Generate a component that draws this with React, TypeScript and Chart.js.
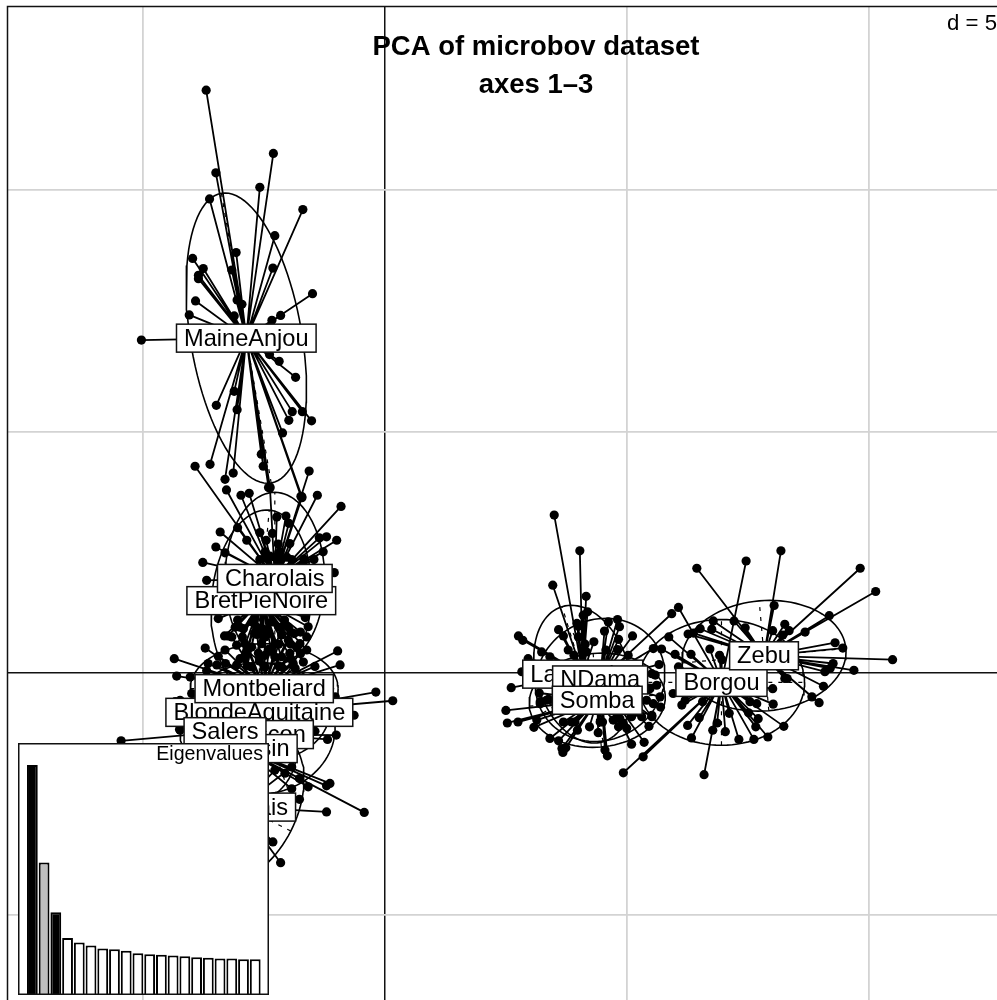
import React, { useEffect, useRef } from "react";
import { Chart, registerables } from "chart.js";
Chart.register(...registerables);

const FONT = '"Liberation Sans", Arial, sans-serif';

const populations = ["Borgou","Zebu","Lagunaire","NDama","Somba","Bazadais","BlondeAquitaine","BretPieNoire","Charolais","Gascon","Limousin","MaineAnjou","Montbeliard","Salers"];
const centreX = [6.96,7.84,4.09,4.45,4.39,-3.01,-2.6,-2.56,-2.28,-2.48,-2.95,-2.87,-2.5,-3.31];
const centreY = [-0.19,0.36,-0.02,-0.14,-0.56,-2.77,-0.81,1.5,1.96,-1.27,-1.56,6.93,-0.32,-1.21];
const ellipseA = [1.72,1.7,1.46,1.37,1.41,1.71,1.45,1.88,1.78,1.41,1.14,3.04,1.53,0.93];
const ellipseB = [1.3,1.14,0.96,1.24,0.97,1.09,1.03,1.03,1.03,1.2,1.03,1.15,0.93,0.93];
const ellipseAngle = [0,5,107,30,5,63,0,85,90,20,90,99.75,0,0];
const ellipseShiftX = [0,0,0,0,0,0.09,0,0,0,0.06,0.1,0,0,0];

const borgouX = [6.07,5.87,7.47,6.72,6.33,6,6.92,6.97,5.72,6.07,6.14,6.21,5.96,6.57,6.26,6.5,6.78,6.87,7.04,7.12,6.34,6.6,7.32,7.52,7.63,7.67,7.72,7.92,8.03,8.25,8.02,4.93,5.34,7.55,7.69];
const borgouY = [1.36,0.75,2.32,0.5,0.39,0.39,0.37,0.28,0.5,0.13,-0.66,-0.56,-0.42,-0.59,-1.08,-0.92,-1.18,-1.03,-1.21,-0.83,-1.34,-2.1,-1.37,-0.82,-1.37,-1.11,-0.94,-1.32,-0.64,-1.1,-0.32,-2.06,-1.73,-0.59,-0.63];
const zebuX = [6.45,8.19,9.83,10.15,8.05,9.19,8.69,8.27,8.36,8.02,8.23,6.79,7.22,7.45,6.76,6.52,6.38,6.27,9.31,9.47,10.5,9.27,9.21,9.1,9.7,9.07,8.83,8.98,8.27,8.32];
const zebuY = [2.17,2.53,2.17,1.69,1.4,1.19,0.85,1.01,0.88,0.88,0.79,1.08,1.08,0.94,0.91,0.92,0.83,0.81,0.63,0.52,0.28,0.2,0.1,0.03,0.06,-0.27,-0.49,-0.61,-0.11,-0.11];
const lagunaireX = [3.5,4.03,3.47,4.16,4.1,4.19,3.59,3.69,2.76,2.85,3.24,4,4,4.32,4.14,3.91,2.96,3.41,3.79,4.17,2.83,2.61,3.97];
const lagunaireY = [3.27,2.53,1.82,1.59,1.2,1.27,0.9,0.77,0.77,0.68,0.44,0.97,0.75,0.65,0.6,0.37,0.3,0.34,0.48,0.44,0.03,-0.3,1.03];
const ndamaX = [4.62,4.81,4.85,4.54,5.12,4.83,4.81,4.57,5.03,5.93,5.55,5.67,5.52,5.59,5.62,5.69,5.48,5.41,5.7,5.52,5.46,5.36,5.1,5,4.83,4.55,4.6];
const ndamaY = [1.06,1.11,0.96,0.87,0.77,0.7,0.49,0.48,0.37,1.23,0.51,0.18,-0.01,-0.04,-0.25,-0.49,-0.32,-0.56,-0.7,-0.9,-1.1,-1.43,-1.47,-1.14,-1.11,-1.59,-1.71];
const sombaX = [2.5,2.53,2.75,3.08,3.14,3.21,3.19,3.38,3.41,3.59,3.66,3.74,3.68,3.98,3.69,3.93,4.23,4.41,4.5,5.1,4.86,4.72,5.14,5.31,4.93,4.45,3.86,3.34,3.21,5.55,5.52];
const sombaY = [-0.77,-1.03,-1.01,-1.12,-0.97,-0.59,-0.41,-0.54,-1.35,-1.4,-1.56,-1.54,-1.64,-1.18,-1.01,-1.01,-1.11,-1.23,-1.01,-0.9,-0.94,-0.97,-0.83,-0.9,-1.04,-1.01,-1.01,-0.56,-0.63,-0.63,-0.87];
const maineAnjouX = [-3.7,-2.31,-2.59,-3.5,-3.63,-1.7,-2.28,-3.08,-3.98,-3.76,-3.86,-3.86,-3.17,-2.32,-1.5,-3.92,-3.06,-2.96,-4.05,-3.12,-2.16,-2.34,-5.04,-2.39,-2.19,-1.85,-3.49,-3.12,-3.06,-1.92,-1.71,-1.99,-1.52,-2.12,-2.56,-3.62,-2.52,-3.14,-3.31,-2.38,-2.41,-1.72,-1.74];
const maineAnjouY = [12.06,10.75,10.05,10.35,9.81,9.59,9.05,8.7,8.58,8.37,8.23,8.16,8.34,8.38,7.85,7.7,7.72,7.63,7.41,7.39,7.4,7.3,6.89,6.59,6.45,6.12,5.54,5.83,5.45,5.41,5.41,5.23,5.22,4.97,4.53,4.32,4.28,4.14,4.01,3.85,3.84,3.65,3.66];
const charolaisX = [-3.93,-3.28,-2.98,-2.81,-2.38,-1.57,-1.72,-1.4,-0.91,-2.24,-2.05,-1.99,-3.05,-3.41,-3.5,-3.31,-2.86,-2.59,-2.33,-2.46,-2.21,-1.97,-1.36,-1.21,-1,-1.28,-1.68,-1.47,-3.77,-3.69,-1.05,-2.48,-2.38,-2.28,-2.17,-2.03,-2.59,-1.93,-2.48,-2.17];
const charolaisY = [4.28,3.79,3.68,3.72,3.83,4.18,3.63,3.68,3.45,3.23,3.25,3.1,3.01,2.92,2.61,2.49,2.75,2.91,2.89,2.75,2.67,2.68,2.8,2.82,2.75,2.51,2.36,2.35,2.29,1.92,2.08,2.38,2.42,2.4,2.37,2.4,2.35,2.35,2.51,2.51];
const bretPieNoireX = [-3.45,-3.05,-2.75,-2.34,-2.08,-1.65,-1.59,-3.32,-3.25,-2.93,-2.7,-2.41,-2.14,-1.88,-1.62,-3.07,-2.76,-2.55,-2.28,-1.83,-1.62,-2.9,-2.48,-2.14,-1.69,-3.1,-2.95,-2.85,-2.65,-2.5,-2.2,-2,-1.95,-1.75,-3,-2.6,-2.35,-1.95,-2.85,-2.2];
const bretPieNoireY = [1.13,1.1,1.06,1.06,1.1,1.15,0.96,0.77,0.77,0.92,0.82,0.82,0.79,0.82,0.75,0.58,0.54,0.61,0.61,0.54,0.48,0.34,0.37,0.34,0.23,0.95,0.75,0.45,0.95,0.9,0.95,0.95,0.6,0.85,0.3,0.3,0.45,0.3,0.15,0.15];
const montbeliardX = [-3.72,-0.98,-4.36,-3.66,-0.93,-3.69,-3.48,-3.07,-2.76,-2.48,-2.14,-1.86,-1.45,-4.31,-4.03,-4,-4.24,-3.31,-2.62,-2.28,-1.97,-2.9,-2.48,-2,-1.76,-3.17,-3,-2.85,-2.65,-2.4,-2.15,-1.95,-1.75,-3.3,-2.6,-2.2,-1.9,-3.45,-2.9];
const montbeliardY = [0.52,0.46,0.3,0.2,0.17,0.05,0.17,0.17,0.13,0.13,0.13,0.1,0.14,-0.06,-0.08,-0.42,-0.56,0.48,0.41,0.34,0.41,0.61,0.75,0.68,0.61,0.75,0.95,0.5,0.8,0.5,0.95,0.85,0.4,0.2,0.25,0.6,0.2,0.35,0.3];
const blondeAquitaineX = [-0.19,0.16,-0.64,-1.03,-4.24,-4.34,-4.14,-3.5,-1.8,-3.3,-1.6];
const blondeAquitaineY = [-0.39,-0.57,-0.87,-0.49,-1.18,-0.59,-0.62,-0.3,-0.4,-1.2,-1.3];
const gasconX = [-1.45,-1.19,-1.01,-1.6,-3.4];
const gasconY = [-1.2,-1.37,-1.28,-1.0,-1.5];
const limousinX = [-0.43,-1.77,-1.59,-1.93,-1.14,-1.21,-2.07];
const limousinY = [-2.88,-2.18,-2.35,-2.39,-2.28,-2.33,-2.07];
const bazadaisX = [-1.93,-2.28,-1.77,-1.21,-2.32,-2.16];
const bazadaisY = [-1.94,-2.01,-2.61,-2.87,-3.49,-3.92];
const salersX = [-5.46,-4.25,-2.7,-3.9];
const salersY = [-1.4,-1.16,-0.85,-1.9];

const memberX = [borgouX,zebuX,lagunaireX,ndamaX,sombaX,bazadaisX,blondeAquitaineX,bretPieNoireX,charolaisX,gasconX,limousinX,maineAnjouX,montbeliardX,salersX];
const memberY = [borgouY,zebuY,lagunaireY,ndamaY,sombaY,bazadaisY,blondeAquitaineY,bretPieNoireY,charolaisY,gasconY,limousinY,maineAnjouY,montbeliardY,salersY];

const eigenvalues = [6.87,3.96,2.47,1.7,1.57,1.48,1.39,1.37,1.32,1.25,1.22,1.2,1.18,1.16,1.13,1.11,1.09,1.09,1.07,1.07];
const eigenColors = ["#000000","#bebebe","#000000"];
const titleLines = ["PCA of microbov dataset", "axes 1\u20133"];

function ellipsePath(i: number) {
  const rad = (ellipseAngle[i] * Math.PI) / 180;
  const out: { x: number; y: number }[] = [];
  for (let k = 0; k <= 96; k++) {
    const t = (k / 96) * 2 * Math.PI;
    const u = ellipseA[i] * Math.cos(t);
    const v = ellipseB[i] * Math.sin(t);
    out.push({ x: centreX[i] + ellipseShiftX[i] + u * Math.cos(rad) - v * Math.sin(rad), y: centreY[i] + u * Math.sin(rad) + v * Math.cos(rad) });
  }
  return out;
}

function ellipseAxis(i: number, len: number, deg: number) {
  const rad = ((ellipseAngle[i] + deg) * Math.PI) / 180;
  const cx = centreX[i] + ellipseShiftX[i];
  return [
    { x: cx - len * Math.cos(rad), y: centreY[i] - len * Math.sin(rad) },
    { x: cx + len * Math.cos(rad), y: centreY[i] + len * Math.sin(rad) },
  ];
}

function buildDatasets() {
  const sets: any[] = [];
  populations.forEach((name, i) => {
    const star: { x: number; y: number }[] = [];
    memberX[i].forEach((x, k) => {
      star.push({ x: centreX[i], y: centreY[i] });
      star.push({ x, y: memberY[i][k] });
    });
    sets.push({
      label: name,
      data: star,
      showLine: true,
      borderColor: "#000",
      borderWidth: 1.8,
      backgroundColor: "#000",
      pointBorderWidth: 0,
      pointRadius: (c: any) => (c.dataIndex % 2 ? 4.6 : 0),
    });
    sets.push({ label: name + " ellipse", data: ellipsePath(i), showLine: true, borderColor: "#000", borderWidth: 1.6, pointRadius: 0 });
    sets.push({ label: name + " axis 1", data: ellipseAxis(i, ellipseA[i], 0), showLine: true, borderColor: "#000", borderWidth: 1.2, borderDash: [4, 6], pointRadius: 0 });
    sets.push({ label: name + " axis 2", data: ellipseAxis(i, ellipseB[i], 90), showLine: true, borderColor: "#000", borderWidth: 1.2, borderDash: [4, 6], pointRadius: 0 });
  });
  return sets;
}

const decorPlugin = {
  id: "decor",
  beforeDatasetsDraw(chart: any) {
    const { ctx, chartArea } = chart;
    ctx.save();
    ctx.strokeStyle = "#111";
    ctx.lineWidth = 1.5;
    ctx.beginPath();
    ctx.moveTo(chartArea.left, 1000);
    ctx.lineTo(chartArea.left, chartArea.top);
    ctx.lineTo(997, chartArea.top);
    ctx.stroke();
    ctx.fillStyle = "#000";
    ctx.textAlign = "center";
    ctx.textBaseline = "alphabetic";
    ctx.font = `bold 27.5px ${FONT}`;
    ctx.fillText(titleLines[0], 536, 55);
    ctx.fillText(titleLines[1], 536, 93);
    ctx.restore();
  },
  afterDatasetsDraw(chart: any) {
    const { ctx, scales } = chart;
    ctx.save();
    ctx.font = `23.6px ${FONT}`;
    ctx.textAlign = "center";
    ctx.textBaseline = "middle";
    populations.forEach((name, i) => {
      const px = scales.x.getPixelForValue(centreX[i]);
      const py = scales.y.getPixelForValue(centreY[i]);
      const w = ctx.measureText(name).width + 15;
      const h = 28;
      ctx.fillStyle = "#fff";
      ctx.strokeStyle = "#111";
      ctx.lineWidth = 1.5;
      ctx.fillRect(px - w / 2, py - h / 2, w, h);
      ctx.strokeRect(px - w / 2, py - h / 2, w, h);
      ctx.fillStyle = "#000";
      ctx.fillText(name, px, py + 1);
    });
    ctx.textAlign = "right";
    ctx.font = `22.2px ${FONT}`;
    ctx.fillText("d = 5", 997, 24);
    ctx.restore();
  },
};

const insetPlugin = {
  id: "inset",
  beforeDraw(chart: any) {
    const { ctx, width, height } = chart;
    ctx.save();
    ctx.fillStyle = "#fff";
    ctx.fillRect(0, 0, width, height);
    ctx.restore();
  },
  afterDraw(chart: any) {
    const { ctx, width, height } = chart;
    ctx.save();
    ctx.strokeStyle = "#111";
    ctx.lineWidth = 1.5;
    ctx.strokeRect(0.75, 0.75, width - 1.5, height - 1.5);
    ctx.fillStyle = "#000";
    ctx.font = `19.6px ${FONT}`;
    ctx.textAlign = "right";
    ctx.textBaseline = "middle";
    ctx.fillText("Eigenvalues", width - 6, 12);
    ctx.restore();
  },
};

export default function App() {
  const mainRef = useRef<HTMLCanvasElement>(null);
  const insetRef = useRef<HTMLCanvasElement>(null);

  useEffect(() => {
    const axisColor = (c: any) => (c.tick && c.tick.value === 0 ? "#111" : "#d3d3d3");
    const axisWidth = (c: any) => (c.tick && c.tick.value === 0 ? 1.5 : 1.8);
    const hiddenAxis = (min: number, max: number, side: string) => ({
      type: "linear",
      min,
      max,
      border: { display: false },
      grid: { color: axisColor, lineWidth: axisWidth, drawTicks: false },
      ticks: { display: false, stepSize: 5, includeBounds: false, padding: 0 },
      afterFit: (s: any) => {
        if (side === "x") s.height = 0;
        else s.width = 0;
      },
    });
    const main = new Chart(mainRef.current!, {
      type: "scatter",
      data: { datasets: buildDatasets() },
      options: {
        responsive: false,
        animation: false,
        layout: { autoPadding: false, padding: { left: 7.5, top: 6.5, right: 0, bottom: 0 } },
        plugins: { legend: { display: false }, tooltip: { enabled: false }, title: { display: false } },
        scales: { x: hiddenAxis(-7.81, 12.66, "x"), y: hiddenAxis(-6.76, 13.79, "y") },
      },
      plugins: [decorPlugin],
    } as any);

    const inset = new Chart(insetRef.current!, {
      type: "bar",
      data: {
        labels: eigenvalues.map((_, i) => String(i + 1)),
        datasets: [
          {
            data: eigenvalues,
            backgroundColor: eigenvalues.map((_, i) => eigenColors[i] || "#ffffff"),
            borderColor: "#000",
            borderWidth: 2,
            categoryPercentage: 1,
            barPercentage: 0.92,
          },
        ],
      },
      options: {
        responsive: false,
        animation: false,
        layout: { padding: { left: 8.5, right: 7.9, top: 0, bottom: 0 } },
        plugins: { legend: { display: false }, tooltip: { enabled: false } },
        scales: { x: { display: false }, y: { display: false, min: 0, max: 7.53 } },
      },
      plugins: [insetPlugin],
    } as any);

    return () => {
      main.destroy();
      inset.destroy();
    };
  }, []);

  return (
    <div style={{ position: "absolute", left: 0, top: 0, width: 997, height: 1000, overflow: "hidden", background: "#fff" }}>
      <canvas ref={mainRef} width={997} height={1000} style={{ position: "absolute", left: 0, top: 0 }} />
      <canvas ref={insetRef} width={251} height={252} style={{ position: "absolute", left: 18, top: 743 }} />
    </div>
  );
}
